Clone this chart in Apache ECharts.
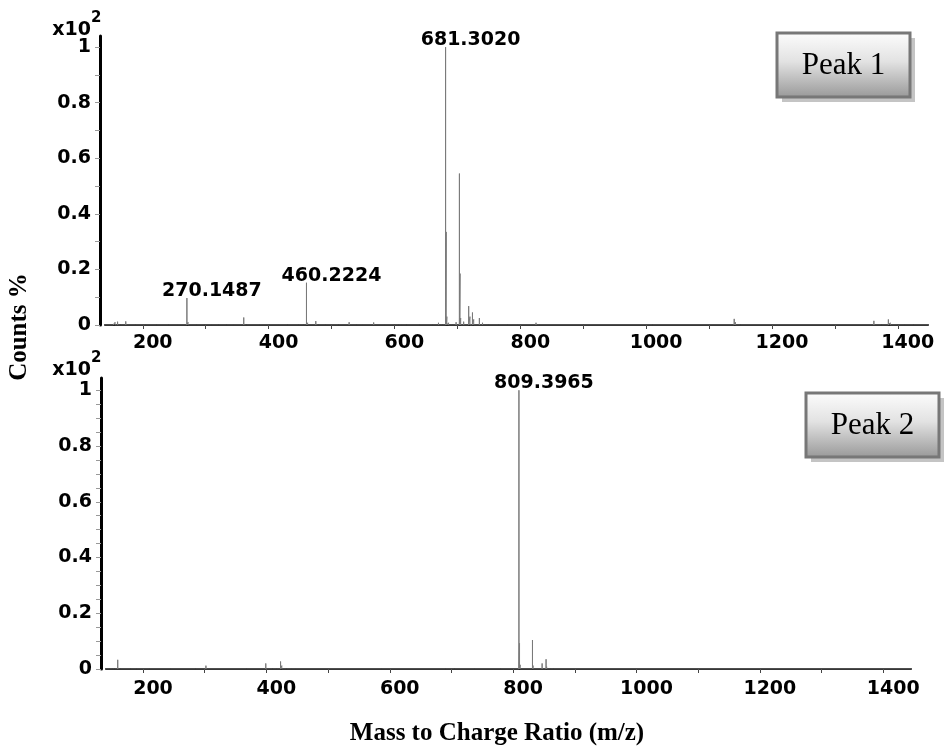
<!DOCTYPE html>
<html>
<head>
<meta charset="utf-8">
<title>Mass spectra - Peak 1 / Peak 2</title>
<script src="https://cdn.jsdelivr.net/npm/echarts@6/dist/echarts.min.js"></script>
</head>
<body style="margin:0;background:#fff">
<div id="main" style="width:947px;height:749px;"></div>
<script>
// Peak 1 spectrum: m/z and relative counts (x10^2)
var peak1Mz = [148, 153, 156, 160, 165, 173, 176, 188, 205, 222, 241, 256, 270.15, 272, 285, 298, 310, 320, 333, 345,
  360.5, 365, 385, 401, 415, 430, 448, 455, 460.22, 462, 475, 479, 490, 511, 528, 540, 550, 567, 585, 600,
  606, 612, 619, 640, 660, 670, 676, 681.30, 682.30, 683.30, 686, 693, 698, 703.28, 704.28, 705.28, 710, 718, 720, 724,
  726, 735, 740, 750, 765, 780, 795, 825, 830, 900, 1010, 1140, 1142, 1150, 1362, 1374, 1385, 1388, 1400, 1410, 1425];
var peak1Counts = [0.004, 0.006, 0.01, 0.012, 0.004, 0.013, 0.004, 0.003, 0.003, 0.005, 0.006, 0.003, 0.097, 0.01, 0.003, 0.003, 0.004, 0.003, 0.003, 0.004,
  0.027, 0.006, 0.004, 0.007, 0.006, 0.003, 0.004, 0.005, 0.152, 0.008, 0.014, 0.006, 0.005, 0.007, 0.01, 0.003, 0.004, 0.009, 0.004, 0.005,
  0.006, 0.003, 0.005, 0.003, 0.004, 0.008, 0.006, 1.0, 0.335, 0.03, 0.008, 0.006, 0.01, 0.545, 0.185, 0.025, 0.012, 0.068, 0.03, 0.045,
  0.02, 0.025, 0.008, 0.006, 0.004, 0.004, 0.005, 0.008, 0.003, 0.003, 0.003, 0.022, 0.01, 0.004, 0.015, 0.004, 0.02, 0.008, 0.004, 0.003, 0.003];
var peak1LabelMz = [270.1487, 460.2224, 681.3020];
var peak1LabelCounts = [0.097, 0.152, 1.0];

// Peak 2 spectrum
var peak2Mz = [145, 150, 154, 159, 163, 180, 190, 193, 210, 244, 285, 302, 304, 368, 399, 410, 417, 423, 425, 428,
  433, 440, 448, 450, 461, 586, 588, 690, 705, 738, 780, 809.40, 810.40, 811.40, 813, 831.38, 832.38, 847, 849, 853.4,
  854.4, 860, 865, 923];
var peak2Counts = [0.003, 0.003, 0.004, 0.033, 0.003, 0.003, 0.005, 0.004, 0.003, 0.004, 0.003, 0.012, 0.004, 0.004, 0.02, 0.003, 0.007, 0.027, 0.012, 0.006,
  0.004, 0.003, 0.007, 0.004, 0.003, 0.007, 0.003, 0.002, 0.002, 0.003, 0.002, 1.0, 0.092, 0.015, 0.004, 0.104, 0.012, 0.02, 0.006, 0.035,
  0.008, 0.004, 0.003, 0.004];
var peak2LabelMz = [809.3965];
var peak2LabelCounts = [1.0];

// axis ticks / labels
var xTickValues = [200, 300, 400, 500, 600, 700, 800, 900, 1000, 1100, 1200, 1300, 1400];
var xLabelValues = [200, 400, 600, 800, 1000, 1200, 1400];
var yLabelValues = [0, 0.2, 0.4, 0.6, 0.8, 1];
var yTickValues1 = [0, 0.1, 0.2, 0.3, 0.4, 0.5, 0.6, 0.7, 0.8, 0.9, 1];
var yTickValues2 = [0, 0.05, 0.1, 0.15, 0.2, 0.25, 0.3, 0.35, 0.4, 0.45, 0.5, 0.55, 0.6, 0.65, 0.7, 0.75, 0.8, 0.85, 0.9, 0.95, 1];

var numFont = 'DejaVu Sans';
var serifFont = 'Liberation Serif';

// turn peaks into a stick spectrum with a zero baseline
function sticks(mz, counts, lo, hi) {
  var out = [[lo, 0]];
  for (var i = 0; i < mz.length; i++) {
    out.push([mz[i], 0], [mz[i], counts[i]], [mz[i], 0]);
  }
  out.push([hi, 0]);
  return out;
}
function pairs(a, b) {
  var out = [];
  for (var i = 0; i < a.length; i++) out.push([a[i], b[i]]);
  return out;
}

function xAxisOpt(idx, max, offset, margin) {
  return {
    type: 'value', gridIndex: idx, min: 140, max: max, offset: offset,
    axisLine: { show: true, lineStyle: { color: '#222', width: 2 } },
    axisTick: { show: true, customValues: xTickValues, length: 4, lineStyle: { color: '#444', width: 1 } },
    axisLabel: { customValues: xLabelValues, margin: margin, padding: [0, 0, 0, 20],
      formatter: function (v) { return String(v); },
      color: '#000', fontFamily: numFont, fontWeight: 'bold', fontSize: 19 },
    splitLine: { show: false }
  };
}
function yAxisOpt(idx, max, ticks) {
  return {
    type: 'value', gridIndex: idx, min: 0, max: max, offset: 5,
    axisLine: { show: true, lineStyle: { color: '#000', width: 3 } },
    axisTick: { show: true, customValues: ticks, length: 5, lineStyle: { color: '#999', width: 1 } },
    axisLabel: { customValues: yLabelValues, margin: 9,
      color: '#000', fontFamily: numFont, fontWeight: 'bold', fontSize: 19 },
    splitLine: { show: false }
  };
}
function labelSeries(idx, data) {
  return {
    type: 'scatter', xAxisIndex: idx, yAxisIndex: idx, data: data,
    symbolSize: 1, itemStyle: { color: 'rgba(0,0,0,0)' }, silent: true, z: 5,
    label: { show: true, position: 'top', distance: 0, offset: [25, 3], opacity: 1, textBorderWidth: 0,
      formatter: function (p) { return p.value[0].toFixed(4); },
      color: '#000', fontFamily: numFont, fontWeight: 'bold', fontSize: 19 }
  };
}
function peakBox(x, y, w, h, txt) {
  return {
    type: 'group', children: [
      { type: 'rect', shape: { x: x + 5, y: y + 5, width: w, height: h }, style: { fill: '#c4c4c4' } },
      { type: 'rect', shape: { x: x, y: y, width: w, height: h },
        style: { fill: { type: 'linear', x: 0, y: 0, x2: 0, y2: 1,
          colorStops: [{ offset: 0, color: '#fdfdfd' }, { offset: 0.45, color: '#e2e2e2' }, { offset: 1, color: '#979797' }] },
          stroke: '#777', lineWidth: 3 } },
      { type: 'text', style: { x: x + w / 2, y: y + h / 2 + 1, text: txt, align: 'center', verticalAlign: 'middle',
        fontFamily: serifFont, fontSize: 31, fill: '#000' } }
    ]
  };
}

var chart = echarts.init(document.getElementById('main'));
chart.setOption({
  animation: false,
  backgroundColor: '#fff',
  grid: [
    { left: 105, right: 19, top: 36, bottom: 424 },
    { left: 106, right: 36, top: 378, bottom: 80 }
  ],
  xAxis: [xAxisOpt(0, 1448, 3, 6), xAxisOpt(1, 1445, 4, 7)],
  yAxis: [yAxisOpt(0, 1.04, yTickValues1), yAxisOpt(1, 1.044, yTickValues2)],
  series: [
    { type: 'line', xAxisIndex: 0, yAxisIndex: 0, data: sticks(peak1Mz, peak1Counts, 140, 1448),
      showSymbol: false, silent: true, lineStyle: { color: '#7a7a7a', width: 1 } },
    { type: 'line', xAxisIndex: 1, yAxisIndex: 1, data: sticks(peak2Mz, peak2Counts, 140, 1445),
      showSymbol: false, silent: true, lineStyle: { color: '#7a7a7a', width: 1 } },
    labelSeries(0, pairs(peak1LabelMz, peak1LabelCounts)),
    labelSeries(1, pairs(peak2LabelMz, peak2LabelCounts))
  ],
  graphic: [
    { type: 'text', style: { x: 91, y: 30, text: 'x10', align: 'right', verticalAlign: 'middle',
      fontFamily: numFont, fontWeight: 'bold', fontSize: 19, fill: '#000' } },
    { type: 'text', style: { x: 91, y: 18, text: '2', align: 'left', verticalAlign: 'middle',
      fontFamily: numFont, fontWeight: 'bold', fontSize: 15, fill: '#000' } },
    { type: 'text', style: { x: 91, y: 370, text: 'x10', align: 'right', verticalAlign: 'middle',
      fontFamily: numFont, fontWeight: 'bold', fontSize: 19, fill: '#000' } },
    { type: 'text', style: { x: 91, y: 358, text: '2', align: 'left', verticalAlign: 'middle',
      fontFamily: numFont, fontWeight: 'bold', fontSize: 15, fill: '#000' } },
    peakBox(777, 33, 133, 64, 'Peak 1'),
    peakBox(806, 393, 133, 64, 'Peak 2'),
    { type: 'text', rotation: Math.PI / 2, x: 20, y: 327,
      style: { x: 0, y: 0, text: 'Counts %', align: 'center', verticalAlign: 'middle',
        fontFamily: serifFont, fontWeight: 'bold', fontSize: 25, fill: '#000' } },
    { type: 'text', style: { x: 497, y: 734, text: 'Mass to Charge Ratio (m/z)', align: 'center', verticalAlign: 'middle',
      fontFamily: serifFont, fontWeight: 'bold', fontSize: 25, fill: '#000' } }
  ]
});
</script>
</body>
</html>
